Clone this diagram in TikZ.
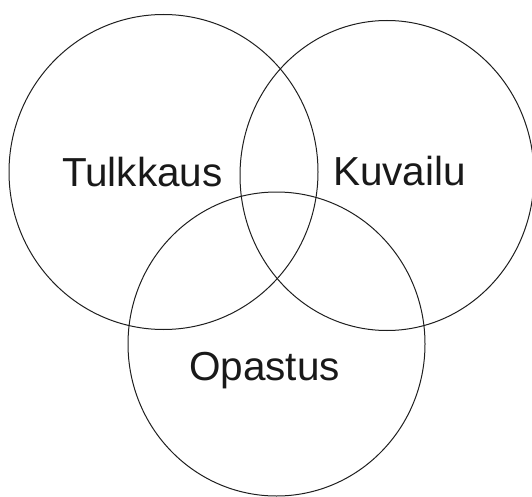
\documentclass[tikz,border=0pt]{standalone}
\usepackage{fontspec}
\setmainfont{Liberation Sans}
\begin{document}
\begin{tikzpicture}[x=1pt,y=-1pt,
  ring/.style={draw=black!88,line width=1pt},
  lbl/.style={anchor=base west,inner sep=0pt,outer sep=0pt,font=\fontsize{40.5}{48}\selectfont,text=black!90}]
\useasboundingbox (0,0) rectangle (532,497);
\clip (0,0) rectangle (532,497);
\draw[ring] (163.5,172) ellipse [x radius=154.5pt, y radius=157.5pt];
\draw[ring] (387,175.5) ellipse [x radius=147pt, y radius=155pt];
\draw[ring] (276.5,344) ellipse [x radius=148.5pt, y radius=152pt];
\node[lbl] (tulkkaus) at (62,186) {Tulkkaus};
\node[lbl] (kuvailu) at (333,185) {Kuvailu};
\node[lbl] (opastus) at (189,380) {Opastus};
\end{tikzpicture}
\end{document}
